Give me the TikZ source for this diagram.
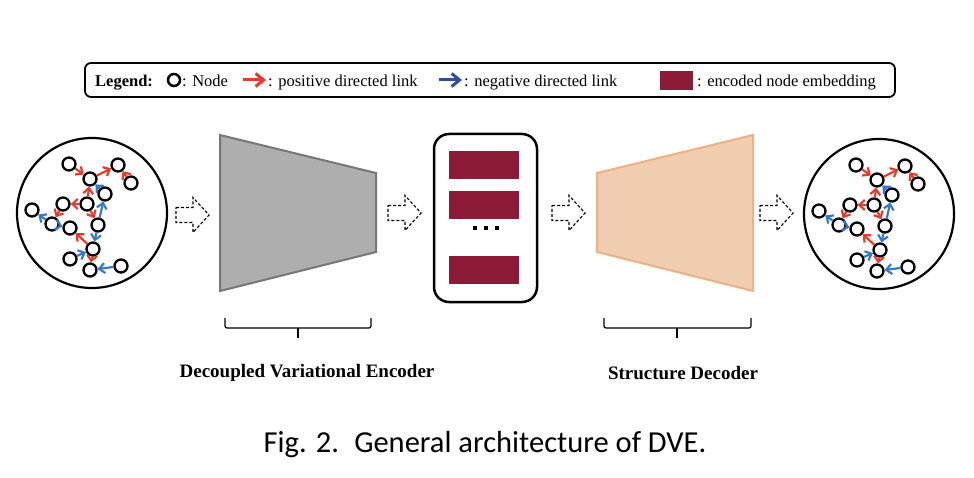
\documentclass[tikz,border=0pt]{standalone}
\usepackage{fontspec}
\setmainfont{Liberation Serif}
\newfontfamily\capfont{Carlito}
\usetikzlibrary{arrows.meta}
\definecolor{posred}{RGB}{232,58,42}
\definecolor{negblue}{RGB}{52,122,200}
\definecolor{legblue}{RGB}{48,78,158}
\definecolor{embred}{RGB}{139,27,54}
\definecolor{encgray}{RGB}{174,174,174}
\definecolor{encedge}{RGB}{118,118,118}
\definecolor{decfill}{RGB}{240,204,176}
\definecolor{decedge}{RGB}{236,178,134}
\tikzset{
  gnode/.style={circle,draw,line width=2.3pt,minimum size=13pt,inner sep=0pt,fill=white},
  poslink/.style={posred,line width=2.2pt,-{Straight Barb[length=5.5pt,width=10pt]}},
  neglink/.style={negblue,line width=2.2pt,-{Straight Barb[length=5.5pt,width=10pt]}},
  legarrow/.style={line width=3pt,-{Straight Barb[length=8pt,width=13pt]}},
  emb/.style={fill=embred,draw=none,inner sep=0pt,minimum width=70pt,minimum height=28pt},
  legtext/.style={anchor=base west,inner sep=0pt,font=\fontsize{16.5}{18}\selectfont},
  title/.style={font=\fontsize{19}{22}\selectfont\bfseries},
}
\begin{document}
\begin{tikzpicture}[x=1pt,y=-1pt]
    \useasboundingbox (0,0) rectangle (974,478);
    % legend
    \node[draw,rounded corners=6pt,line width=1.8pt,minimum width=810pt,minimum height=34pt] (legend) at (490,80) {};
    \node[legtext,font=\fontsize{16.5}{18}\selectfont\bfseries] (legtitle) at (95,87) {Legend:};
    \node[gnode,minimum size=12pt,line width=2.5pt] (legnode) at (174,80) {};
    \node[legtext] (legnodetxt) at (182,87) {: Node};
    \coordinate (legpa) at (243,80);
    \coordinate (legpb) at (266,80);
    \draw[poslink,legarrow] (legpa) -- (legpb);
    \node[legtext] (legpostxt) at (268,87) {: positive directed link};
    \coordinate (legna) at (439,80);
    \coordinate (legnb) at (462,80);
    \draw[neglink,legarrow,legblue] (legna) -- (legnb);
    \node[legtext] (legnegtxt) at (464,87) {: negative directed link};
    \node[emb,minimum width=33pt,minimum height=19pt] (legemb) at (676.5,80.5) {};
    \node[legtext] (legembtxt) at (697,87) {: encoded node embedding};
    % input and output graphs
    \foreach \gp/\dx/\dy in {in/0/0,out/787/1}{
    \begin{scope}[shift={(\dx,\dy)},name prefix=\gp-]
        \node[draw,circle,line width=2.2pt,minimum size=150pt] (graph) at (92,213) {};
        \node[gnode] (a) at (69,164) {};
        \node[gnode] (b) at (90,179) {};
        \node[gnode] (c) at (118,165) {};
        \node[gnode] (d) at (131,183) {};
        \node[gnode] (e) at (105,194) {};
        \node[gnode] (f) at (63,204) {};
        \node[gnode] (g) at (87,204) {};
        \node[gnode] (h) at (32,210) {};
        \node[gnode] (i) at (52,224) {};
        \node[gnode] (j) at (70,228) {};
        \node[gnode] (k) at (98,225) {};
        \node[gnode] (l) at (93,249) {};
        \node[gnode] (m) at (70,259) {};
        \node[gnode] (n) at (90,270) {};
        \node[gnode] (o) at (121,266) {};
        \foreach \s/\t in {a/b,b/c,d/c,g/b,g/f,g/k,f/i,l/j,l/n}
            \draw[poslink] (\s) -- (\t);
        \foreach \s/\t in {e/b,k/e,i/h,i/j,k/l,m/l,o/n}
            \draw[neglink] (\s) -- (\t);
    \end{scope}
    }
    % hollow dashed arrows
    \foreach \x/\y in {176/215,388/213,552/213,760/213}
        \draw[line width=1.1pt,dash pattern=on 3pt off 2pt] (\x,\y-7.5) -- ++(17,0) -- ++(0,-10) -- ++(16,17.5) -- ++(-16,17.5) -- ++(0,-10) -- ++(-17,0) -- cycle;
    % encoder
    \draw[fill=encgray,draw=encedge,line width=2pt] (220,135) -- (376,173) -- (376,252) -- (220,291) -- cycle;
    % embeddings
    \node[draw,rounded corners=15pt,line width=2.5pt,minimum width=103pt,minimum height=168pt] (embbox) at (485.5,218) {};
    \node[emb] (emba) at (484,165) {};
    \node[emb] (embb) at (484,205) {};
    \node[emb] (embc) at (484,270) {};
    \foreach \x in {475,486,497}
        \fill (\x-2,226) rectangle (\x+2,230);
    % decoder
    \draw[fill=decfill,draw=decedge,line width=2pt] (597,173) -- (753,135) -- (753,291) -- (597,252) -- cycle;
    % braces
    \draw[line width=1.2pt,rounded corners=2pt] (225,318) -- (225,328) -- (371,328) -- (371,318);
    \draw[line width=1.2pt] (298,328) -- (298,338);
    \draw[line width=1.2pt,rounded corners=2pt] (604,318) -- (604,328) -- (751,328) -- (751,318);
    \draw[line width=1.2pt] (677,328) -- (677,338);
    \node[title] (enclabel) at (307,373) {Decoupled Variational Encoder};
    \node[title] (declabel) at (683,373) {Structure Decoder};
    % caption
    \node[font=\capfont\fontsize{30.5}{33}\selectfont] (caption) at (485,445) {Fig. 2.\enspace General architecture of DVE.};
\end{tikzpicture}
\end{document}
